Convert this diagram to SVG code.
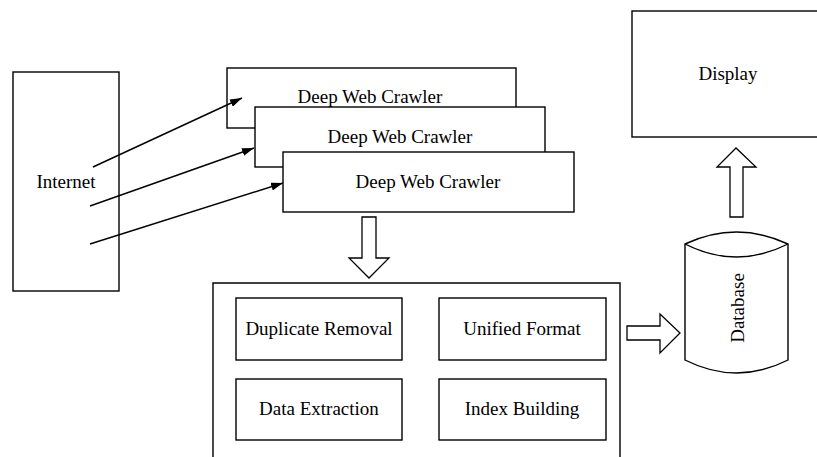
<svg xmlns="http://www.w3.org/2000/svg" width="817" height="457" viewBox="0 0 817 457">
<style>
.b{fill:#fff;stroke:#000;stroke-width:1.4}
.t{font-family:"Liberation Serif","Times New Roman",serif;font-size:19px;fill:#000;text-anchor:middle}
.c{stroke:#000;stroke-width:1.4;fill:none}
.h{fill:#fff;stroke:#000;stroke-width:1.3;stroke-linejoin:miter}
</style>
<defs>
<marker id="ah" viewBox="0 0 12 8" refX="12" refY="4" markerWidth="12" markerHeight="8" markerUnits="userSpaceOnUse" orient="auto">
<path d="M0,0 L12,4 L0,8 Z" fill="#000"/>
</marker>
</defs>
<rect width="817" height="457" fill="#fff"/>
<g id="internet">
<rect class="b" x="13" y="72" width="106" height="219"/>
<text class="t" x="66" y="188">Internet</text>
</g>
<g id="crawler1">
<rect class="b" x="227" y="68" width="289" height="60"/>
<text class="t" x="370" y="103">Deep Web Crawler</text>
</g>
<g id="crawler2">
<rect class="b" x="255" y="107" width="290" height="60"/>
<text class="t" x="400" y="143">Deep Web Crawler</text>
</g>
<g id="crawler3">
<rect class="b" x="283" y="152" width="291" height="60"/>
<text class="t" x="428" y="188">Deep Web Crawler</text>
</g>
<g id="processing">
<path class="c" d="M213,462 L213,283 L620,283 L620,462"/>
</g>
<g id="duplicate-removal">
<rect class="b" x="236" y="298" width="166" height="62"/>
<text class="t" x="319" y="335">Duplicate Removal</text>
</g>
<g id="unified-format">
<rect class="b" x="439" y="298" width="167" height="62"/>
<text class="t" x="522" y="335">Unified Format</text>
</g>
<g id="data-extraction">
<rect class="b" x="236" y="379" width="166" height="61"/>
<text class="t" x="319" y="415">Data Extraction</text>
</g>
<g id="index-building">
<rect class="b" x="439" y="379" width="167" height="61"/>
<text class="t" x="522" y="415">Index Building</text>
</g>
<g id="database">
<path class="b" d="M685,244 Q736.5,220 788,244 L788,360 Q736.5,386 685,360 Z"/>
<path class="c" d="M685,244 Q736.5,270 788,244"/>
<text class="t" transform="translate(744,308) rotate(-90)" x="0" y="0">Database</text>
</g>
<g id="display">
<rect class="b" x="632" y="11" width="200" height="126"/>
<text class="t" x="728" y="80">Display</text>
</g>
<g id="connectors">
<line class="c" x1="93" y1="167" x2="242" y2="98" marker-end="url(#ah)"/>
<line class="c" x1="90" y1="206" x2="254" y2="148" marker-end="url(#ah)"/>
<line class="c" x1="90" y1="244" x2="283" y2="183" marker-end="url(#ah)"/>
<path class="h" d="M362,217 L376,217 L376,258 L389,258 L369,278 L349,258 L362,258 Z"/>
<path class="h" d="M627,326 L660,326 L660,314 L680,333 L660,353 L660,340 L627,340 Z"/>
<path class="h" d="M730,217 L730,167 L717,167 L736,148 L756,167 L743,167 L743,217 Z"/>
</g>
</svg>
